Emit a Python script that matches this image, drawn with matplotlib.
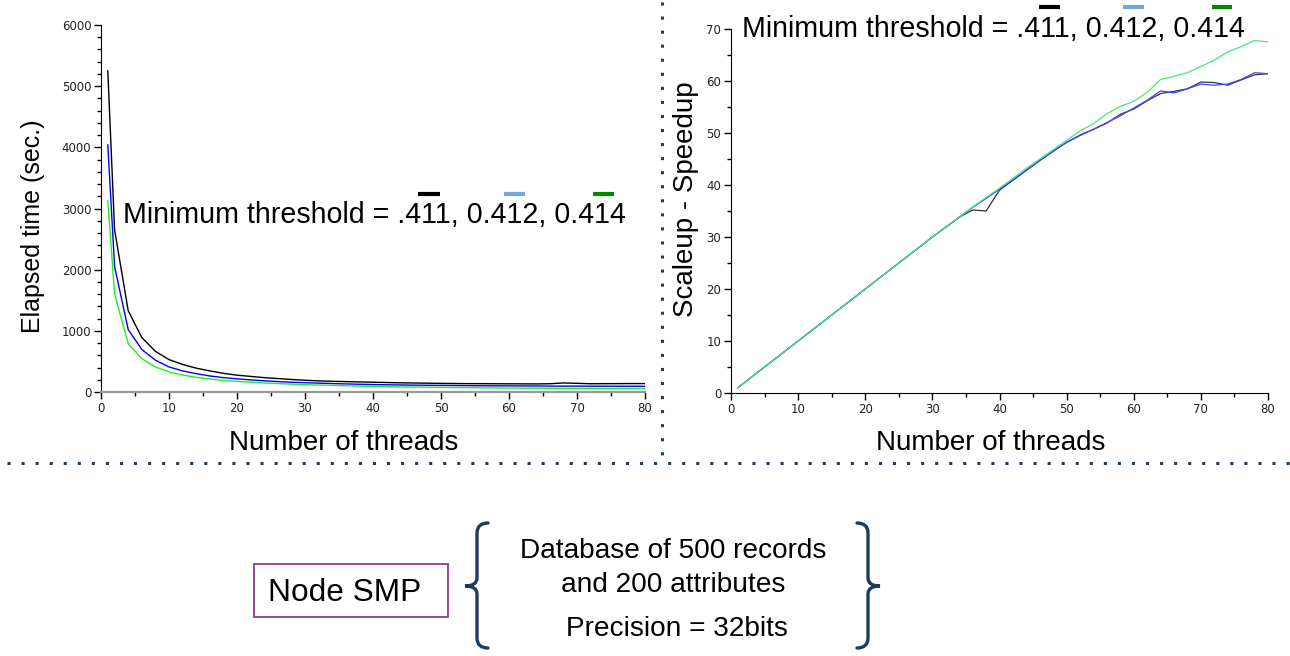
import matplotlib
matplotlib.use('Agg')
import matplotlib.pyplot as plt
from matplotlib.path import Path
from matplotlib.patches import PathPatch, Rectangle
from matplotlib.ticker import MultipleLocator

# threads used in the runs
threads = [1] + list(range(2, 81, 2))

# elapsed time (sec.) for the three minimum thresholds
time_411 = [5250, 2650, 1330, 890, 665, 530, 450, 390, 345, 305, 275, 255, 235, 220, 205,
            192, 182, 175, 170, 165, 160, 155, 150, 147, 144, 141, 139, 137, 136, 135,
            134, 133, 132, 135, 148, 142, 135, 136, 137, 138, 138]
time_412 = [4040, 2050, 1020, 695, 520, 410, 345, 300, 262, 235, 215, 198, 183, 170, 160,
            152, 145, 138, 132, 127, 122, 118, 115, 112, 110, 108, 106, 104, 102, 101,
            100, 99, 98, 97, 96, 96, 95, 95, 94, 94, 93]
time_414 = [3130, 1600, 790, 545, 410, 328, 278, 240, 212, 190, 173, 160, 148, 138, 128,
            120, 113, 107, 101, 96, 91, 87, 83, 80, 77, 75, 73, 71, 69, 67,
            65, 63, 62, 61, 60, 59, 58, 57, 56, 56, 55]

# speedup for the three minimum thresholds
speedup_411 = [1, 2, 4, 6, 8, 10, 12, 14, 16, 18, 20, 22, 24, 26, 28, 30, 31.9, 33.8,
               35.2, 35.0, 39.0, 40.9, 42.8, 44.7, 46.5, 48.2, 49.6, 50.7, 51.9, 53.6,
               54.6, 56.2, 57.6, 58.0, 58.5, 59.8, 59.7, 59.2, 60.2, 61.2, 61.4]
speedup_412 = [1, 2, 4, 6, 8, 10, 12, 14, 16, 18, 20, 22, 24, 26, 28, 30, 31.9, 33.8,
               35.7, 37.4, 39.2, 41.0, 42.9, 44.7, 46.5, 48.2, 49.5, 50.7, 52.0, 53.3,
               54.8, 56.3, 58.1, 57.7, 58.5, 59.4, 59.2, 59.4, 60.3, 61.6, 61.4]
speedup_414 = [1, 2, 4, 6, 8, 10, 12, 14, 16, 18, 20, 22, 24, 26, 28, 30, 31.9, 33.8,
               35.8, 37.6, 39.4, 41.3, 43.2, 45.0, 46.8, 48.6, 50.4, 51.8, 53.7, 55.1,
               56.1, 57.8, 60.3, 60.9, 61.6, 62.8, 64.0, 65.6, 66.6, 67.8, 67.5]

title_text = 'Minimum threshold = .411, 0.412, 0.414'
info_lines = ['Database of 500 records', 'and 200 attributes', 'Precision = 32bits']

W, H = 1290, 656
NAVY = '#1f3a5f'
BIG = 'Liberation Sans'

fig = plt.figure(figsize=(W / 100, H / 100), dpi=100)


def fx(px):
    return px / W


def fy(py):
    return 1 - py / H


def style_axes(ax, ymajor, yminor, bottom_color):
    for s in ['top', 'right']:
        ax.spines[s].set_visible(False)
    ax.spines['left'].set_color('black')
    ax.spines['bottom'].set_color(bottom_color)
    ax.xaxis.set_major_locator(MultipleLocator(10))
    ax.xaxis.set_minor_locator(MultipleLocator(5))
    ax.yaxis.set_major_locator(MultipleLocator(ymajor))
    ax.yaxis.set_minor_locator(MultipleLocator(yminor))
    ax.tick_params(which='major', direction='out', length=5, width=1, labelsize=8.5,
                   labelcolor='#222222', pad=2)
    ax.tick_params(which='minor', direction='out', length=3, width=1)
    ax.set_xlim(0, 80)


# elapsed time chart
ax1 = fig.add_axes([fx(101), fy(392), fx(645) - fx(101), fy(25) - fy(392)])
ax1.plot(threads, time_411, color='black', lw=1)
ax1.plot(threads, time_412, color='#0000ff', lw=1)
ax1.plot(threads, time_414, color='#22ee22', lw=1)
ax1.set_ylim(0, 6000)
style_axes(ax1, 1000, 200, '#999999')
ax1.spines['bottom'].set_linewidth(1.6)

# speedup chart
ax2 = fig.add_axes([fx(731), fy(393), fx(1268) - fx(731), fy(29) - fy(393)])
ax2.plot(threads, speedup_411, color='#333333', lw=0.9)
ax2.plot(threads, speedup_412, color='#4444ff', lw=0.9)
ax2.plot(threads, speedup_414, color='#44e87a', lw=0.9)
ax2.set_ylim(0, 70)
style_axes(ax2, 10, 5, 'black')

# axis labels
fig.text(fx(344), fy(443), 'Number of threads', fontsize=20, family=BIG, ha='center', va='center')
fig.text(fx(991), fy(443), 'Number of threads', fontsize=20, family=BIG, ha='center', va='center')
fig.text(fx(33), fy(226), 'Elapsed time (sec.)', fontsize=18, family=BIG, rotation=90,
         ha='center', va='center')
fig.text(fx(686), fy(199), 'Scaleup - Speedup', fontsize=20, family=BIG, rotation=90,
         ha='center', va='center')

# threshold captions with colour keys
fig.text(fx(123), fy(215), title_text, fontsize=20.6, family=BIG, ha='left', va='center')
fig.text(fx(742), fy(29), title_text, fontsize=20.6, family=BIG, ha='left', va='center')
key_colors = ['black', '#6fa8dc', '#008a00']
for (x0, x1), c in zip([(418, 440), (504, 525), (593, 614)], key_colors):
    fig.add_artist(plt.Line2D([fx(x0), fx(x1)], [fy(194), fy(194)], color=c, lw=3,
                              solid_capstyle='butt'))
for (x0, x1), c in zip([(1039, 1060), (1123, 1144), (1212, 1232)], key_colors):
    fig.add_artist(plt.Line2D([fx(x0), fx(x1)], [fy(7), fy(7)], color=c, lw=3,
                              solid_capstyle='butt'))

# dotted separators
fig.add_artist(plt.Line2D([fx(662), fx(662)], [fy(2), fy(463)], color=NAVY, lw=2.2,
                          linestyle=(0, (1, 3.6))))
fig.add_artist(plt.Line2D([fx(7), fx(1290)], [fy(463), fy(463)], color=NAVY, lw=2.2,
                          linestyle=(0, (1, 3.6))))

# Node SMP box
fig.add_artist(Rectangle((fx(254), fy(617)), fx(448) - fx(254), fy(564) - fy(617),
                         transform=fig.transFigure, fill=False, edgecolor='#8e3a8e', lw=1.3))
fig.text(fx(345), fy(593), 'Node SMP', fontsize=22.8, family=BIG, ha='center', va='center')


def brace(xstem, xend, xtip, ytop, ymid, ybot):
    r = 10
    pts = [(xend, ytop), (xstem, ytop), (xstem, ytop + r), (xstem, ymid - 8),
           (xstem, ymid), (xtip, ymid), (xstem, ymid), (xstem, ymid + 8),
           (xstem, ybot - r), (xstem, ybot), (xend, ybot)]
    codes = [Path.MOVETO, Path.CURVE3, Path.CURVE3, Path.LINETO, Path.CURVE3, Path.CURVE3,
             Path.CURVE3, Path.CURVE3, Path.LINETO, Path.CURVE3, Path.CURVE3]
    verts = [(fx(x), fy(y)) for x, y in pts]
    fig.add_artist(PathPatch(Path(verts, codes), transform=fig.transFigure, fill=False,
                             edgecolor=NAVY, lw=2.4, capstyle='round'))


brace(477, 488, 465, 523, 586, 648)
brace(868, 857, 880, 523, 586, 648)

for txt, (cx, cy) in zip(info_lines, [(673, 551), (673, 585), (677, 629)]):
    fig.text(fx(cx), fy(cy), txt, fontsize=20.2, family=BIG, ha='center', va='center')

fig.savefig('out.png', dpi=100)
